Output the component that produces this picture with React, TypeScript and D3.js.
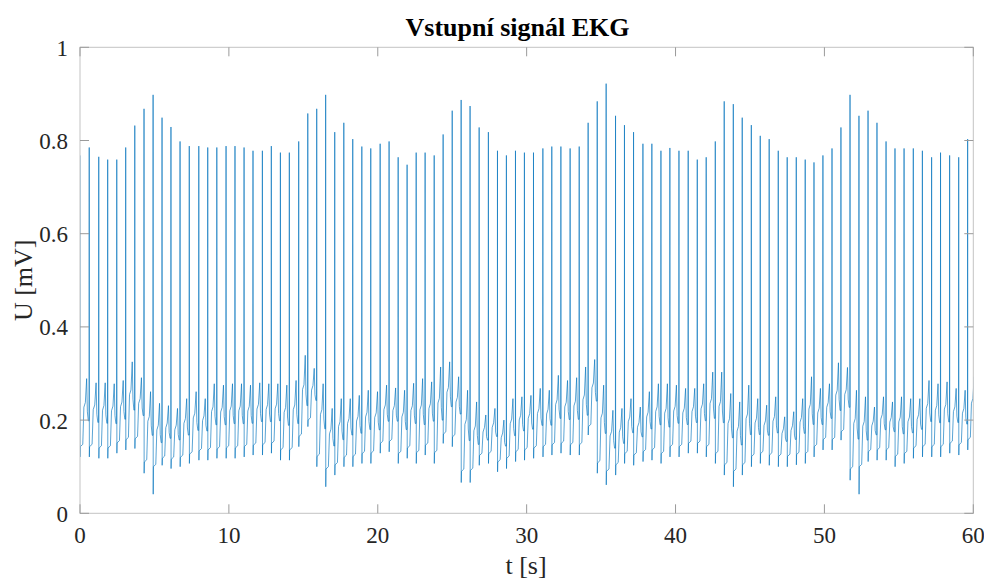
import React from "react";
import * as d3 from "d3";

// R-peak times [s]
const beatTimes = [
  0.0, 0.62, 1.26, 1.86, 2.47, 3.07, 3.68, 4.3, 4.91, 5.51,
  6.11, 6.72, 7.34, 7.98, 8.58, 9.19, 9.81, 10.41, 11.02, 11.62,
  12.25, 12.85, 13.46, 14.06, 14.69, 15.3, 15.9, 16.5, 17.11, 17.72,
  18.32, 18.93, 19.53, 20.16, 20.76, 21.37, 21.97, 22.58, 23.18, 23.79,
  24.39, 25.0, 25.6, 26.2, 26.81, 27.43, 28.04, 28.64, 29.25, 29.85,
  30.46, 31.09, 31.69, 32.3, 32.92, 33.53, 34.13, 34.74, 35.34, 35.97,
  36.57, 37.18, 37.81, 38.41, 39.02, 39.62, 40.23, 40.85, 41.46, 42.06,
  42.67, 43.27, 43.88, 44.48, 45.09, 45.69, 46.29, 46.9, 47.5, 48.11,
  48.71, 49.3, 49.9, 50.51, 51.11, 51.72, 52.32, 52.93, 53.53, 54.14,
  54.74, 55.35, 55.97, 56.58, 57.2, 57.8, 58.41, 59.02, 59.62,
];

// R-peak amplitudes [mV]
const rPeak = [
  0.768, 0.785, 0.765, 0.759, 0.759, 0.785, 0.832, 0.868, 0.898, 0.849,
  0.829, 0.798, 0.788, 0.788, 0.785, 0.785, 0.788, 0.788, 0.785, 0.778,
  0.778, 0.788, 0.774, 0.774, 0.798, 0.858, 0.868, 0.898, 0.818, 0.838,
  0.803, 0.787, 0.783, 0.793, 0.798, 0.764, 0.748, 0.774, 0.774, 0.768,
  0.813, 0.864, 0.887, 0.874, 0.828, 0.818, 0.778, 0.768, 0.778, 0.774,
  0.774, 0.783, 0.787, 0.787, 0.783, 0.787, 0.838, 0.884, 0.922, 0.853,
  0.833, 0.818, 0.793, 0.793, 0.778, 0.784, 0.778, 0.778, 0.759, 0.764,
  0.798, 0.884, 0.878, 0.849, 0.833, 0.81, 0.803, 0.778, 0.764, 0.764,
  0.759, 0.753, 0.768, 0.783, 0.828, 0.898, 0.853, 0.864, 0.838, 0.798,
  0.783, 0.783, 0.783, 0.778, 0.764, 0.774, 0.768, 0.764, 0.803,
];

// S-wave minima [mV]
const sMin = [
  0.121, 0.121, 0.118, 0.118, 0.129, 0.136, 0.139, 0.086, 0.041, 0.103,
  0.096, 0.1, 0.107, 0.114, 0.114, 0.118, 0.118, 0.118, 0.121, 0.125,
  0.125, 0.129, 0.114, 0.114, 0.143, 0.186, 0.1, 0.057, 0.082, 0.1,
  0.1, 0.107, 0.107, 0.129, 0.132, 0.107, 0.118, 0.107, 0.125, 0.107,
  0.15, 0.143, 0.066, 0.066, 0.103, 0.107, 0.089, 0.096, 0.111, 0.114,
  0.118, 0.121, 0.125, 0.129, 0.125, 0.125, 0.168, 0.086, 0.061, 0.082,
  0.107, 0.103, 0.111, 0.114, 0.107, 0.121, 0.121, 0.129, 0.129, 0.121,
  0.107, 0.082, 0.057, 0.082, 0.1, 0.107, 0.103, 0.1, 0.1, 0.104,
  0.107, 0.121, 0.136, 0.136, 0.157, 0.071, 0.041, 0.111, 0.114, 0.114,
  0.1, 0.107, 0.118, 0.121, 0.121, 0.121, 0.129, 0.125, 0.136,
];

// isoelectric (ST) level after each beat [mV]
const baseLevel = [
  0.143, 0.143, 0.14, 0.14, 0.151, 0.158, 0.16, 0.11, 0.1, 0.118,
  0.116, 0.12, 0.127, 0.134, 0.136, 0.138, 0.14, 0.14, 0.143, 0.146,
  0.147, 0.15, 0.136, 0.136, 0.165, 0.2, 0.122, 0.095, 0.104, 0.12,
  0.122, 0.128, 0.129, 0.15, 0.154, 0.128, 0.14, 0.13, 0.146, 0.13,
  0.17, 0.164, 0.09, 0.092, 0.124, 0.128, 0.11, 0.118, 0.132, 0.136,
  0.14, 0.143, 0.147, 0.15, 0.147, 0.147, 0.186, 0.108, 0.09, 0.104,
  0.128, 0.125, 0.132, 0.136, 0.128, 0.143, 0.143, 0.15, 0.15, 0.143,
  0.128, 0.104, 0.09, 0.104, 0.122, 0.128, 0.125, 0.122, 0.122, 0.126,
  0.128, 0.143, 0.158, 0.158, 0.175, 0.095, 0.1, 0.132, 0.136, 0.136,
  0.122, 0.128, 0.14, 0.143, 0.143, 0.143, 0.15, 0.147, 0.158,
];

// T-wave maxima [mV]
const tPeak = [
  0.289, 0.28, 0.28, 0.278, 0.285, 0.325, 0.291, 0.261, 0.236, 0.231,
  0.225, 0.246, 0.261, 0.246, 0.278, 0.275, 0.278, 0.278, 0.275, 0.28,
  0.278, 0.278, 0.275, 0.285, 0.339, 0.311, 0.278, 0.225, 0.246, 0.246,
  0.253, 0.264, 0.261, 0.275, 0.269, 0.264, 0.279, 0.289, 0.282, 0.314,
  0.325, 0.293, 0.264, 0.239, 0.211, 0.225, 0.2, 0.246, 0.25, 0.253,
  0.268, 0.264, 0.296, 0.285, 0.291, 0.314, 0.33, 0.275, 0.221, 0.225,
  0.246, 0.228, 0.261, 0.278, 0.278, 0.275, 0.268, 0.268, 0.278, 0.303,
  0.303, 0.257, 0.239, 0.275, 0.246, 0.232, 0.25, 0.207, 0.218, 0.246,
  0.293, 0.268, 0.278, 0.323, 0.313, 0.264, 0.25, 0.228, 0.25, 0.239,
  0.25, 0.246, 0.246, 0.285, 0.278, 0.282, 0.268, 0.264, 0.293,
];

const xTicks = [0, 10, 20, 30, 40, 50, 60];
const yTicks = [0, 0.2, 0.4, 0.6, 0.8, 1];

const W = 984;
const H = 580;
const M = { left: 80, right: 973.3, top: 47.3, bottom: 513.3 };

function buildSignal(): [number, number][] {
  const pts: [number, number][] = [];
  const n = beatTimes.length;
  for (let i = 0; i < n; i++) {
    const t0 = beatTimes[i];
    const t1 = i + 1 < n ? beatTimes[i + 1] : t0 + (beatTimes[n - 1] - beatTimes[0]) / (n - 1);
    const rr = t1 - t0;
    const b = baseLevel[i];
    const tp = tPeak[i];
    const mid = b + 0.58 * (tp - b);
    const pre = b + 0.38 * (tp - b);
    const shape: [number, number][] = [
      [0, rPeak[i]],
      [0.012, sMin[i]],
      [0.035, b],
      [0.3, b + 0.005],
      [0.42, mid],
      [0.58, mid + 0.01],
      [0.72, tp],
      [0.8, mid - 0.01],
      [0.9, pre],
      [0.985, pre],
    ];
    for (const [ph, v] of shape) pts.push([t0 + ph * rr, v]);
  }
  return pts;
}

export default function App() {
  const x = d3.scaleLinear().domain([0, 60]).range([M.left, M.right]);
  const y = d3.scaleLinear().domain([0, 1]).range([M.bottom, M.top]);
  const data = buildSignal();
  const line = d3
    .line<[number, number]>()
    .x((d) => x(d[0]))
    .y((d) => y(d[1]));
  const serif = "'Liberation Serif', 'Times New Roman', serif";
  const tickLen = 9;
  const boxColor = "#c4c4c4";
  const tickColor = "#9a9a9a";
  const textColor = "#262626";

  return (
    <div style={{ position: "fixed", left: 0, top: 0, width: W, height: H, background: "#fff" }}>
      <svg width={W} height={H} style={{ display: "block" }}>
        <defs>
          <clipPath id="plotClip">
            <rect x={M.left} y={M.top} width={M.right - M.left} height={M.bottom - M.top} />
          </clipPath>
        </defs>
        <rect x={0} y={0} width={W} height={H} fill="#fff" />
        <g clipPath="url(#plotClip)">
          <path d={line(data) || ""} fill="none" stroke="#0072BD" strokeWidth={0.65} strokeLinejoin="round" />
        </g>
        <rect
          x={M.left}
          y={M.top}
          width={M.right - M.left}
          height={M.bottom - M.top}
          fill="none"
          stroke={boxColor}
          strokeWidth={1}
        />
        {xTicks.map((t) => (
          <g key={"xt" + t}>
            <line x1={x(t)} x2={x(t)} y1={M.bottom} y2={M.bottom - tickLen} stroke={tickColor} strokeWidth={1} />
            <line x1={x(t)} x2={x(t)} y1={M.top} y2={M.top + tickLen} stroke={tickColor} strokeWidth={1} />
            <text
              x={x(t)}
              y={M.bottom + 30}
              textAnchor="middle"
              fontFamily={serif}
              fontSize={23}
              fill={textColor}
            >
              {t}
            </text>
          </g>
        ))}
        {yTicks.map((v) => (
          <g key={"yt" + v}>
            <line x1={M.left} x2={M.left + tickLen} y1={y(v)} y2={y(v)} stroke={tickColor} strokeWidth={1} />
            <line x1={M.right} x2={M.right - tickLen} y1={y(v)} y2={y(v)} stroke={tickColor} strokeWidth={1} />
            <text
              x={M.left - 12}
              y={y(v) + 8.5}
              textAnchor="end"
              fontFamily={serif}
              fontSize={23}
              fill={textColor}
            >
              {d3.format("~g")(v)}
            </text>
          </g>
        ))}
        <text
          x={517.5}
          y={36}
          textAnchor="middle"
          fontFamily={serif}
          fontWeight="bold"
          fontSize={26}
          fill="#000"
        >
          Vstupní signál EKG
        </text>
        <text x={526} y={574} textAnchor="middle" fontFamily={serif} fontSize={26} fill={textColor}>
          t [s]
        </text>
        <text
          transform={`translate(32,${(M.top + M.bottom) / 2}) rotate(-90)`}
          textAnchor="middle"
          fontFamily={serif}
          fontSize={26}
          fill={textColor}
        >
          U [mV]
        </text>
      </svg>
    </div>
  );
}
